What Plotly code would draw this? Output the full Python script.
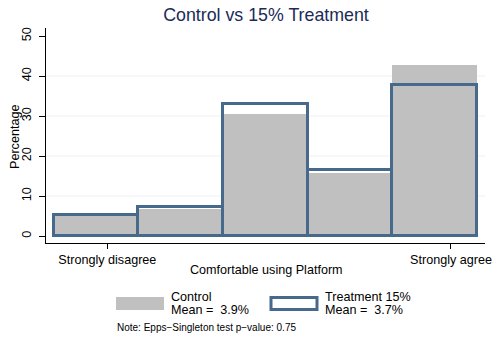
import plotly.graph_objects as go

# ---- data ----
categories = [1, 2, 3, 4, 5]
control_pct = [5.0, 6.8, 30.6, 15.8, 42.8]
treatment_pct = [5.3, 7.3, 33.0, 16.6, 37.8]
x_tick_vals = [1.134, 5.196]
x_tick_text = ["Strongly disagree", "Strongly agree"]
y_tick_vals = [0, 10, 20, 30, 40, 50]
grid_vals = [10, 20, 30, 40]
title_text = "Control vs 15% Treatment"
x_title = "Comfortable using Platform"
y_title = "Percentage"
control_label = ["Control", "Mean =  3.9%"]
treatment_label = ["Treatment 15%", "Mean =  3.7%"]
note_text = "Note: Epps\u2212Singleton test p\u2212value: 0.75"

GRAY = "#c0c0c0"
NAVY = "#46698c"
TXT = "#000000"
FONT = "Liberation Sans, Arial, sans-serif"
FS = 12.6

L, R, T, B = 46, 485, 28, 243
PW, PH = R - L, B - T


def px(x):
    return (x - L) / PW


def py(y):
    return (B - y) / PH


fig = go.Figure()
fig.add_trace(go.Bar(x=categories, y=control_pct, width=1.0,
                     marker=dict(color=GRAY, line=dict(width=0)),
                     showlegend=False, hoverinfo="skip"))
fig.add_trace(go.Bar(x=categories, y=treatment_pct, width=1.0,
                     marker=dict(color="rgba(0,0,0,0)", line=dict(color=NAVY, width=3)),
                     showlegend=False, hoverinfo="skip"))

shapes = []
for g in grid_vals:
    shapes.append(dict(type="line", xref="paper", yref="y", x0=0, x1=1, y0=g, y1=g,
                       line=dict(color="#eaf2f3", width=1), layer="below"))
# legend keys
shapes.append(dict(type="rect", xref="paper", yref="paper",
                   x0=px(116), x1=px(164), y0=py(297), y1=py(310),
                   fillcolor=GRAY, line=dict(width=0)))
shapes.append(dict(type="rect", xref="paper", yref="paper",
                   x0=px(271), x1=px(317), y0=py(297.5), y1=py(309.5),
                   fillcolor="white", line=dict(color=NAVY, width=3)))

annotations = []
for lx, lines in ((171, control_label), (325, treatment_label)):
    for i, t in enumerate(lines):
        annotations.append(dict(text=t, xref="paper", yref="paper",
                                x=px(lx - 2), y=py(297 + 13 * i), xanchor="left", yanchor="middle",
                                showarrow=False, font=dict(size=FS, color=TXT, family=FONT)))
annotations.append(dict(text=note_text, xref="paper", yref="paper",
                        x=px(115), y=py(327.5), xanchor="left", yanchor="middle",
                        showarrow=False, font=dict(size=10, color=TXT, family=FONT)))
annotations.append(dict(text=x_title, xref="paper", yref="paper",
                        x=px(266), y=py(270), xanchor="center", yanchor="middle",
                        showarrow=False, font=dict(size=FS, color=TXT, family=FONT)))
annotations.append(dict(text=y_title, xref="paper", yref="paper", textangle=-90,
                        x=px(15), y=py(137), xanchor="center", yanchor="middle",
                        showarrow=False, font=dict(size=FS, color=TXT, family=FONT)))

fig.update_layout(
    width=493, height=339,
    margin=dict(l=L, r=493 - R, t=T, b=339 - B, autoexpand=False),
    paper_bgcolor="white", plot_bgcolor="white",
    barmode="overlay", bargap=0,
    font=dict(family=FONT, size=FS, color=TXT),
    title=dict(text=title_text, x=266 / 493, xanchor="center", y=1 - 15 / 339, yanchor="middle",
               font=dict(size=17.8, color="#1a2b57", family=FONT)),
    xaxis=dict(range=[0.409, 5.598], showline=True, linecolor="black", linewidth=1,
               tickvals=x_tick_vals, ticktext=x_tick_text, ticks="outside", ticklen=5,
               tickcolor="black", showgrid=False, zeroline=False, automargin=False,
               tickfont=dict(size=FS)),
    yaxis=dict(range=[-1.75, 52], showline=True, linecolor="black", linewidth=1,
               tickvals=y_tick_vals, ticks="outside", ticklen=6, tickcolor="black",
               tickangle=-90, showgrid=False, zeroline=False, automargin=False,
               ticklabelstandoff=3, tickfont=dict(size=FS)),
    shapes=shapes,
    annotations=annotations,
)

fig.write_html("out.html", config={"displayModeBar": False},
               post_script="document.body.style.margin='0';document.body.style.overflow='hidden';")
